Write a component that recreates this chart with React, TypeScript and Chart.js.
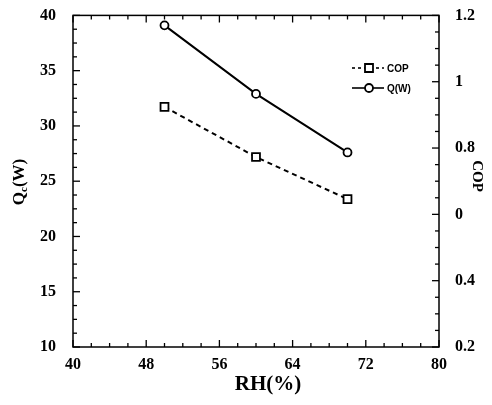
import React, { useEffect, useRef } from "react";
import { Chart, registerables } from "chart.js";

Chart.register(...registerables);

// ---- data ----
const rhValues = [50, 60, 70];
const qValues = [39.1, 32.9, 27.6];
const copValues = [0.924, 0.773, 0.646];
const xTickLabels = ["40", "48", "56", "64", "72", "80"];
const leftTickLabels = ["10", "15", "20", "25", "30", "35", "40"];
const rightTickLabels = ["0.2", "0.4", "0", "0.8", "1", "1.2"];
const seriesNames = ["COP", "Q(W)"];

const SERIF = '"Liberation Serif", "Times New Roman", serif';
const SANS = '"Liberation Sans", Arial, sans-serif';

const W = 484;
const H = 389;

const zeroPad = (s: any) => {
  s.paddingTop = 0;
  s.paddingBottom = 0;
  s.paddingLeft = 0;
  s.paddingRight = 0;
};

const framePlugin = {
  id: "frameTicks",
  afterDraw(chart: any) {
    const { ctx, chartArea: ca, scales } = chart;
    const { left, right, top, bottom } = ca;
    ctx.save();
    ctx.strokeStyle = "#000";
    ctx.lineWidth = 1.5;
    ctx.strokeRect(left, top, right - left, bottom - top);

    const drawTicks = (scale: any, min: number, max: number, step: number, side: string) => {
      const n = Math.round((max - min) / (step / 4));
      for (let i = 0; i <= n; i++) {
        const v = min + (i * step) / 4;
        const major = i % 4 === 0;
        const len = major ? 7 : 4;
        const p = scale.getPixelForValue(v);
        ctx.beginPath();
        if (side === "bottom") {
          ctx.moveTo(p, bottom);
          ctx.lineTo(p, bottom - len);
          ctx.moveTo(p, top);
          ctx.lineTo(p, top + len);
        } else if (side === "left") {
          ctx.moveTo(left, p);
          ctx.lineTo(left + len, p);
        } else {
          ctx.moveTo(right, p);
          ctx.lineTo(right - len, p);
        }
        ctx.stroke();
      }
    };
    ctx.lineWidth = 1.3;
    drawTicks(scales.x, 40, 80, 8, "bottom");
    drawTicks(scales.y, 10, 40, 5, "left");
    drawTicks(scales.y1, 0.2, 1.2, 0.2, "right");

    // axis titles
    ctx.fillStyle = "#000";
    ctx.textBaseline = "middle";
    ctx.textAlign = "center";
    ctx.font = `bold 21px ${SERIF}`;
    ctx.fillText("RH(%)", 260, 377);

    // left title Qc(W) rotated
    ctx.save();
    ctx.translate(12, 174);
    ctx.rotate(-Math.PI / 2);
    ctx.textAlign = "left";
    ctx.textBaseline = "middle";
    const bigFont = `bold 17px ${SERIF}`;
    const smallFont = `bold 11px ${SERIF}`;
    ctx.font = bigFont;
    const wQ = ctx.measureText("Q").width;
    const wW = ctx.measureText("(W)").width;
    ctx.font = smallFont;
    const wc = ctx.measureText("c").width;
    const total = wQ + wc + wW;
    let x0 = -total / 2;
    ctx.font = bigFont;
    ctx.fillText("Q", x0, 0);
    x0 += wQ;
    ctx.font = smallFont;
    ctx.fillText("c", x0, 4);
    x0 += wc;
    ctx.font = bigFont;
    ctx.fillText("(W)", x0, 0);
    ctx.restore();

    // right title COP rotated
    ctx.save();
    ctx.translate(469, 168);
    ctx.rotate(Math.PI / 2);
    ctx.textAlign = "center";
    ctx.textBaseline = "middle";
    ctx.font = `bold 15px ${SERIF}`;
    ctx.fillText("COP", 0, 0);
    ctx.restore();

    // legend
    const legendRows = [
      { y: 60, dash: [3, 3], marker: "rect" },
      { y: 80, dash: [], marker: "circle" },
    ];
    legendRows.forEach((row, i) => {
      ctx.save();
      ctx.strokeStyle = "#000";
      ctx.lineWidth = 1.6;
      ctx.setLineDash(row.dash);
      ctx.beginPath();
      ctx.moveTo(344, row.y);
      ctx.lineTo(376, row.y);
      ctx.stroke();
      ctx.setLineDash([]);
      ctx.fillStyle = "#fff";
      ctx.lineWidth = 1.8;
      ctx.beginPath();
      if (row.marker === "rect") {
        ctx.rect(357, row.y - 4, 8, 8);
      } else {
        ctx.arc(361, row.y, 4, 0, Math.PI * 2);
      }
      ctx.fill();
      ctx.stroke();
      ctx.fillStyle = "#000";
      ctx.font = `bold 10px ${SANS}`;
      ctx.textAlign = "left";
      ctx.textBaseline = "middle";
      ctx.fillText(seriesNames[i], 379, row.y + 1);
      ctx.restore();
    });
    ctx.restore();
  },
};

export default function App() {
  const ref = useRef<HTMLCanvasElement | null>(null);
  useEffect(() => {
    if (!ref.current) return;
    const tickFont = { family: SERIF, size: 16, weight: "bold" as const };
    const chart = new Chart(ref.current, {
      type: "line",
      data: {
        datasets: [
          {
            label: seriesNames[0],
            data: rhValues.map((x, i) => ({ x, y: copValues[i] })),
            yAxisID: "y1",
            borderColor: "#000",
            borderWidth: 2,
            borderDash: [5, 4],
            pointStyle: "rect",
            pointRadius: 5.6,
            pointBorderWidth: 1.8,
            pointBackgroundColor: "#fff",
            pointBorderColor: "#000",
            tension: 0,
          },
          {
            label: seriesNames[1],
            data: rhValues.map((x, i) => ({ x, y: qValues[i] })),
            yAxisID: "y",
            borderColor: "#000",
            borderWidth: 2,
            pointStyle: "circle",
            pointRadius: 4,
            pointBorderWidth: 1.8,
            pointBackgroundColor: "#fff",
            pointBorderColor: "#000",
            tension: 0,
          },
        ],
      },
      options: {
        animation: false,
        responsive: false,
        maintainAspectRatio: false,
        layout: { padding: { top: 7, left: 0, right: 0, bottom: 0 } },
        plugins: { legend: { display: false }, tooltip: { enabled: false } },
        scales: {
          x: {
            type: "linear",
            min: 40,
            max: 80,
            grid: { display: false },
            border: { display: false },
            ticks: {
              stepSize: 8,
              padding: 0,
              color: "#000",
              font: tickFont,
              maxRotation: 0,
              autoSkip: false,
              callback: (v: any, i: number) => xTickLabels[i] ?? String(v),
            },
            afterFit: (s: any) => {
              s.height = 50;
              zeroPad(s);
            },
          },
          y: {
            type: "linear",
            position: "left",
            min: 10,
            max: 40,
            grid: { display: false },
            border: { display: false },
            ticks: {
              stepSize: 5,
              padding: 9,
              color: "#000",
              font: tickFont,
              callback: (v: any, i: number) => leftTickLabels[i] ?? String(v),
            },
            afterFit: (s: any) => {
              s.width = 65;
              zeroPad(s);
            },
          },
          y1: {
            type: "linear",
            position: "right",
            min: 0.2,
            max: 1.2,
            grid: { display: false },
            border: { display: false },
            ticks: {
              stepSize: 0.2,
              padding: 8,
              color: "#000",
              font: tickFont,
              callback: (v: any, i: number) => rightTickLabels[i] ?? String(v),
            },
            afterFit: (s: any) => {
              s.width = W - 431;
              zeroPad(s);
            },
          },
        },
      },
      plugins: [framePlugin],
    });
    return () => chart.destroy();
  }, []);
  return (
    <div style={{ width: W, height: H }}>
      <canvas ref={ref} width={W} height={H} style={{ display: "block" }} />
    </div>
  );
}
